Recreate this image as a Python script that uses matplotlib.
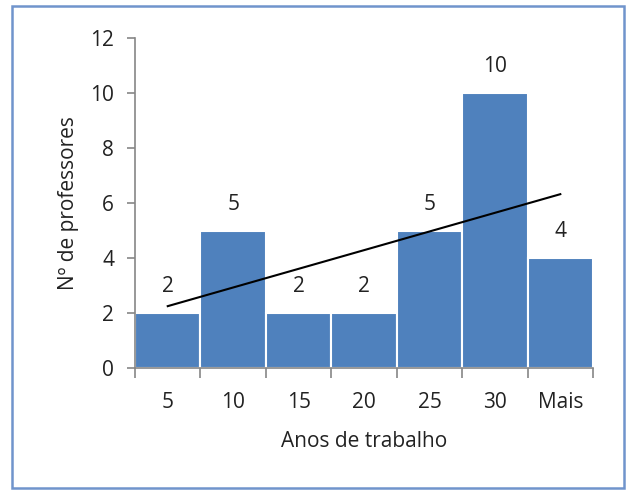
import numpy as np
import matplotlib.pyplot as plt
from matplotlib.patches import Rectangle

categorias = ['5', '10', '15', '20', '25', '30', 'Mais']
professores = [2, 5, 2, 2, 5, 10, 4]

plt.rcParams['font.family'] = ['Open Sans', 'DejaVu Sans']

fig = plt.figure(figsize=(6.26, 4.93), dpi=100)
ax = fig.add_axes([0.2157, 0.2535, 0.7316, 0.6694])

x = np.arange(1, len(categorias) + 1)
ax.bar(x, professores, width=1.0, color='#4F81BD', edgecolor='white', linewidth=1.5, zorder=2)

# linha de tendencia (regressao linear)
a, b = np.polyfit(x, professores, 1)
ax.plot([x[0], x[-1]], [a * x[0] + b, a * x[-1] + b], color='black', lw=1.5, zorder=3)

for xi, v in zip(x, professores):
    ax.annotate(str(v), (xi, v), xytext=(0, 19), textcoords='offset points',
                ha='center', va='center', fontsize=15, color='#222222')

ax.set_xlim(0.5, len(categorias) + 0.5)
ax.set_ylim(0, 12)
ax.set_yticks(range(0, 13, 2))
ax.set_xticks(x)
ax.set_xticklabels(categorias)
ax.set_xticks(np.arange(0.5, len(categorias) + 1), minor=True)

for s in ['top', 'right']:
    ax.spines[s].set_visible(False)
for s in ['left', 'bottom']:
    ax.spines[s].set_color('#868686')
    ax.spines[s].set_linewidth(1.2)

ax.tick_params(axis='x', which='major', length=0, pad=17, labelsize=15, colors='#222222')
ax.tick_params(axis='x', which='minor', length=7, width=1.2, color='#868686')
ax.tick_params(axis='y', length=6, width=1.2, color='#868686', labelsize=15, labelcolor='#222222', pad=9)

ax.set_xlabel('Anos de trabalho', fontsize=15, color='#222222', labelpad=13)
ax.set_ylabel('Nº de professores', fontsize=15, color='#222222', labelpad=8)

fig.patches.append(Rectangle((0.0192, 0.0101), 0.9776, 0.9777, transform=fig.transFigure,
                             fill=False, edgecolor='#7094CC', linewidth=1.8))

fig.savefig('out.png', dpi=100)
